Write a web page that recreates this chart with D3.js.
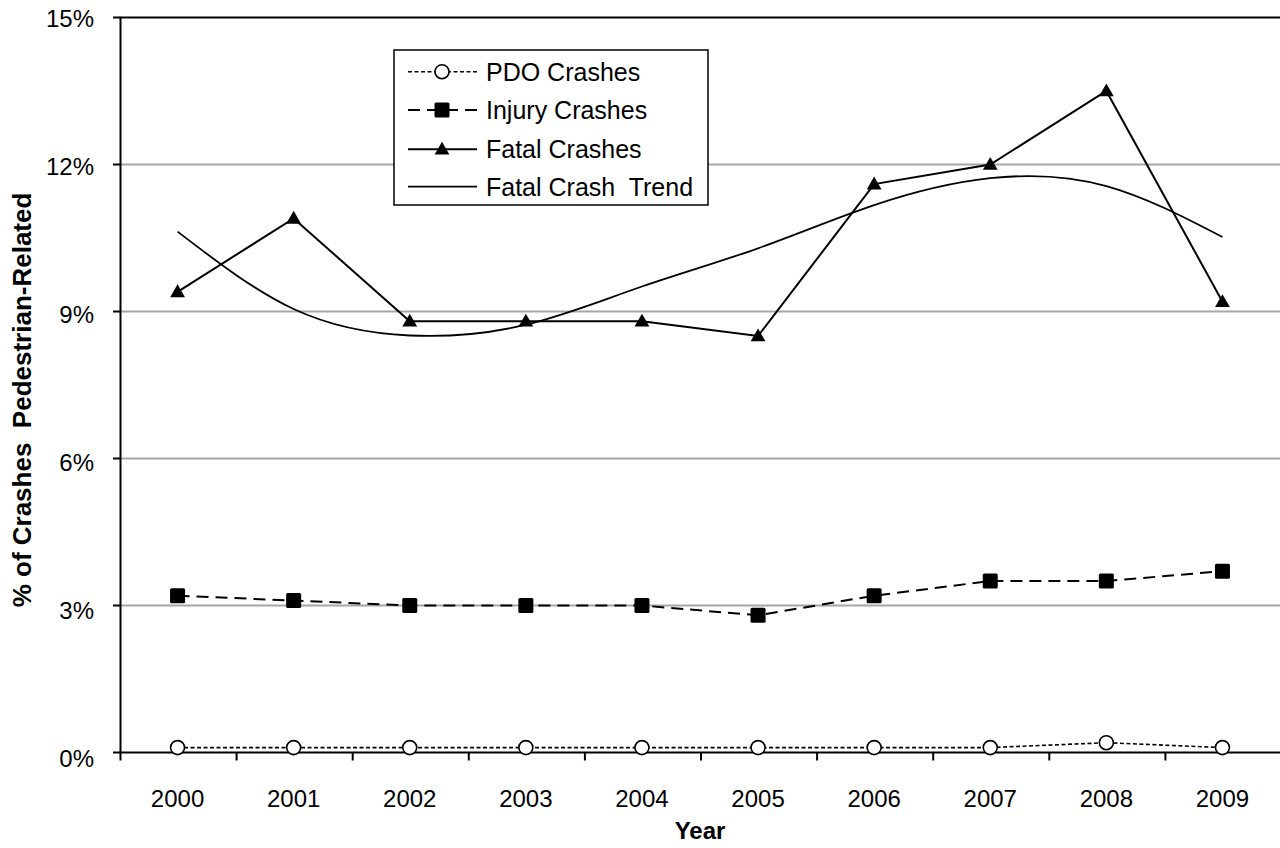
<!DOCTYPE html>
<html>
<head>
<meta charset="utf-8">
<script src="https://cdn.jsdelivr.net/npm/d3@7"></script>
<style>
  html, body { margin: 0; background: #fff; }
  svg { display: block; font-family: "Liberation Sans", Arial, sans-serif; }
</style>
</head>
<body>
<svg id="chart" width="1280" height="848"></svg>
<script>
// Share of crashes that were pedestrian-related, by severity (percent)
const years = [2000, 2001, 2002, 2003, 2004, 2005, 2006, 2007, 2008, 2009];
const pdoValues = [0.1, 0.1, 0.1, 0.1, 0.1, 0.1, 0.1, 0.1, 0.2, 0.1];
const injuryValues = [3.2, 3.1, 3.0, 3.0, 3.0, 2.8, 3.2, 3.5, 3.5, 3.7];
const fatalValues = [9.4, 10.9, 8.8, 8.8, 8.8, 8.5, 11.6, 12.0, 13.5, 9.2];
const fatalTrendValues = [10.63, 9.05, 8.51, 8.73, 9.51, 10.29, 11.17, 11.72, 11.56, 10.52];
const yTicks = [0, 3, 6, 9, 12, 15];
const legendLabels = ["PDO Crashes", "Injury Crashes", "Fatal Crashes", "Fatal Crash  Trend"];

const svg = d3.select("#chart");
const plot = { left: 119.5, right: 1280.5, top: 17.5, bottom: 752.5 };

const x = d3.scaleBand().domain(years).range([plot.left, plot.right]).padding(0);
const cx = d => x(d) + x.bandwidth() / 2;
const y = d3.scaleLinear().domain([0, 15]).range([plot.bottom, plot.top]);
// tick label baselines sit slightly below their gridlines
const yLabel = d3.scaleLinear().domain([0, 15]).range([767, 27.3]);

// gridlines
svg.append("g").selectAll("line")
  .data(yTicks.filter(v => v > 0 && v < 15))
  .join("line")
  .attr("x1", plot.left).attr("x2", plot.right)
  .attr("y1", d => y(d)).attr("y2", d => y(d))
  .attr("stroke", "#a6a6a6").attr("stroke-width", 2);

// top border of plot area
svg.append("line")
  .attr("x1", plot.left).attr("x2", plot.right)
  .attr("y1", y(15)).attr("y2", y(15))
  .attr("stroke", "#000").attr("stroke-width", 2);

// y axis
const yAxis = svg.append("g");
yAxis.append("line")
  .attr("x1", plot.left + 1).attr("x2", plot.left + 1)
  .attr("y1", y(15)).attr("y2", plot.bottom)
  .attr("stroke", "#000").attr("stroke-width", 2);
yAxis.selectAll(".tick").data(yTicks).join("line")
  .attr("x1", 113).attr("x2", plot.left + 1)
  .attr("y1", d => y(d)).attr("y2", d => y(d))
  .attr("stroke", "#000").attr("stroke-width", 2);
yAxis.selectAll("text").data(yTicks).join("text")
  .attr("x", 94).attr("y", d => yLabel(d))
  .attr("text-anchor", "end")
  .attr("font-size", 24).attr("fill", "#000")
  .text(d => d + "%");

// x axis
const xAxis = svg.append("g");
xAxis.append("line")
  .attr("x1", plot.left).attr("x2", plot.right)
  .attr("y1", plot.bottom).attr("y2", plot.bottom)
  .attr("stroke", "#000").attr("stroke-width", 2);
xAxis.selectAll("line.tick").data(years).join("line")
  .attr("class", "tick")
  .attr("x1", d => x(d) + 1).attr("x2", d => x(d) + 1)
  .attr("y1", plot.bottom).attr("y2", plot.bottom + 8)
  .attr("stroke", "#000").attr("stroke-width", 2);
xAxis.selectAll("text").data(years).join("text")
  .attr("x", d => cx(d)).attr("y", 807)
  .attr("text-anchor", "middle")
  .attr("font-size", 24).attr("fill", "#000")
  .text(d => d);

// axis titles
svg.append("text")
  .attr("x", 700).attr("y", 839)
  .attr("text-anchor", "middle")
  .attr("font-size", 24).attr("font-weight", "bold")
  .text("Year");
svg.append("text")
  .attr("transform", "translate(31,400) rotate(-90)")
  .attr("text-anchor", "middle")
  .attr("font-size", 26).attr("font-weight", "bold")
  .style("white-space", "pre")
  .text("% of Crashes  Pedestrian-Related");

// series
const line = d3.line().x((d, i) => cx(years[i])).y(d => y(d));
const trendLine = d3.line().x((d, i) => cx(years[i])).y(d => y(d)).curve(d3.curveNatural);

svg.append("path").datum(fatalTrendValues)
  .attr("d", trendLine).attr("fill", "none")
  .attr("stroke", "#000").attr("stroke-width", 1.8);

svg.append("path").datum(pdoValues)
  .attr("d", line).attr("fill", "none")
  .attr("stroke", "#000").attr("stroke-width", 1.6)
  .attr("stroke-dasharray", "4,2.5");

svg.append("path").datum(injuryValues)
  .attr("d", line).attr("fill", "none")
  .attr("stroke", "#000").attr("stroke-width", 2)
  .attr("stroke-dasharray", "12,7");

svg.append("path").datum(fatalValues)
  .attr("d", line).attr("fill", "none")
  .attr("stroke", "#000").attr("stroke-width", 2);

// markers
const triangle = d3.symbol().type(d3.symbolTriangle).size(95);

function drawCircle(g, px, py) {
  g.append("circle").attr("cx", px).attr("cy", py).attr("r", 7)
    .attr("fill", "#fff").attr("stroke", "#000").attr("stroke-width", 1.6);
}
function drawSquare(g, px, py) {
  g.append("rect").attr("x", px - 7.5).attr("y", py - 7.5)
    .attr("width", 15).attr("height", 15).attr("rx", 1.5)
    .attr("fill", "#000");
}
function drawTriangle(g, px, py) {
  g.append("path").attr("d", triangle)
    .attr("transform", `translate(${px},${py + 1})`)
    .attr("fill", "#000");
}

const marks = svg.append("g");
pdoValues.forEach((v, i) => drawCircle(marks, cx(years[i]), y(v)));
injuryValues.forEach((v, i) => drawSquare(marks, cx(years[i]), y(v)));
fatalValues.forEach((v, i) => drawTriangle(marks, cx(years[i]), y(v)));

// legend
const legend = svg.append("g");
legend.append("rect")
  .attr("x", 394).attr("y", 50).attr("width", 314).attr("height", 155)
  .attr("fill", "#fff").attr("stroke", "#000").attr("stroke-width", 1.5);

const rowY = [71.7, 110, 149.3, 186.7];
const legendDash = ["4,2.5", "12,7", null, null];
const legendWidth = [1.6, 2, 2, 1.8];
legendLabels.forEach((label, i) => {
  const ly = rowY[i];
  const seg = legend.append("line")
    .attr("x1", 408).attr("x2", 477).attr("y1", ly).attr("y2", ly)
    .attr("stroke", "#000").attr("stroke-width", legendWidth[i]);
  if (legendDash[i]) seg.attr("stroke-dasharray", legendDash[i]);
  if (i === 0) drawCircle(legend, 442, ly);
  if (i === 1) drawSquare(legend, 442, ly);
  if (i === 2) drawTriangle(legend, 442, ly);
  legend.append("text")
    .attr("x", 486).attr("y", ly + 9)
    .attr("font-size", 25).attr("fill", "#000")
    .style("white-space", "pre")
    .text(label);
});
</script>
</body>
</html>
